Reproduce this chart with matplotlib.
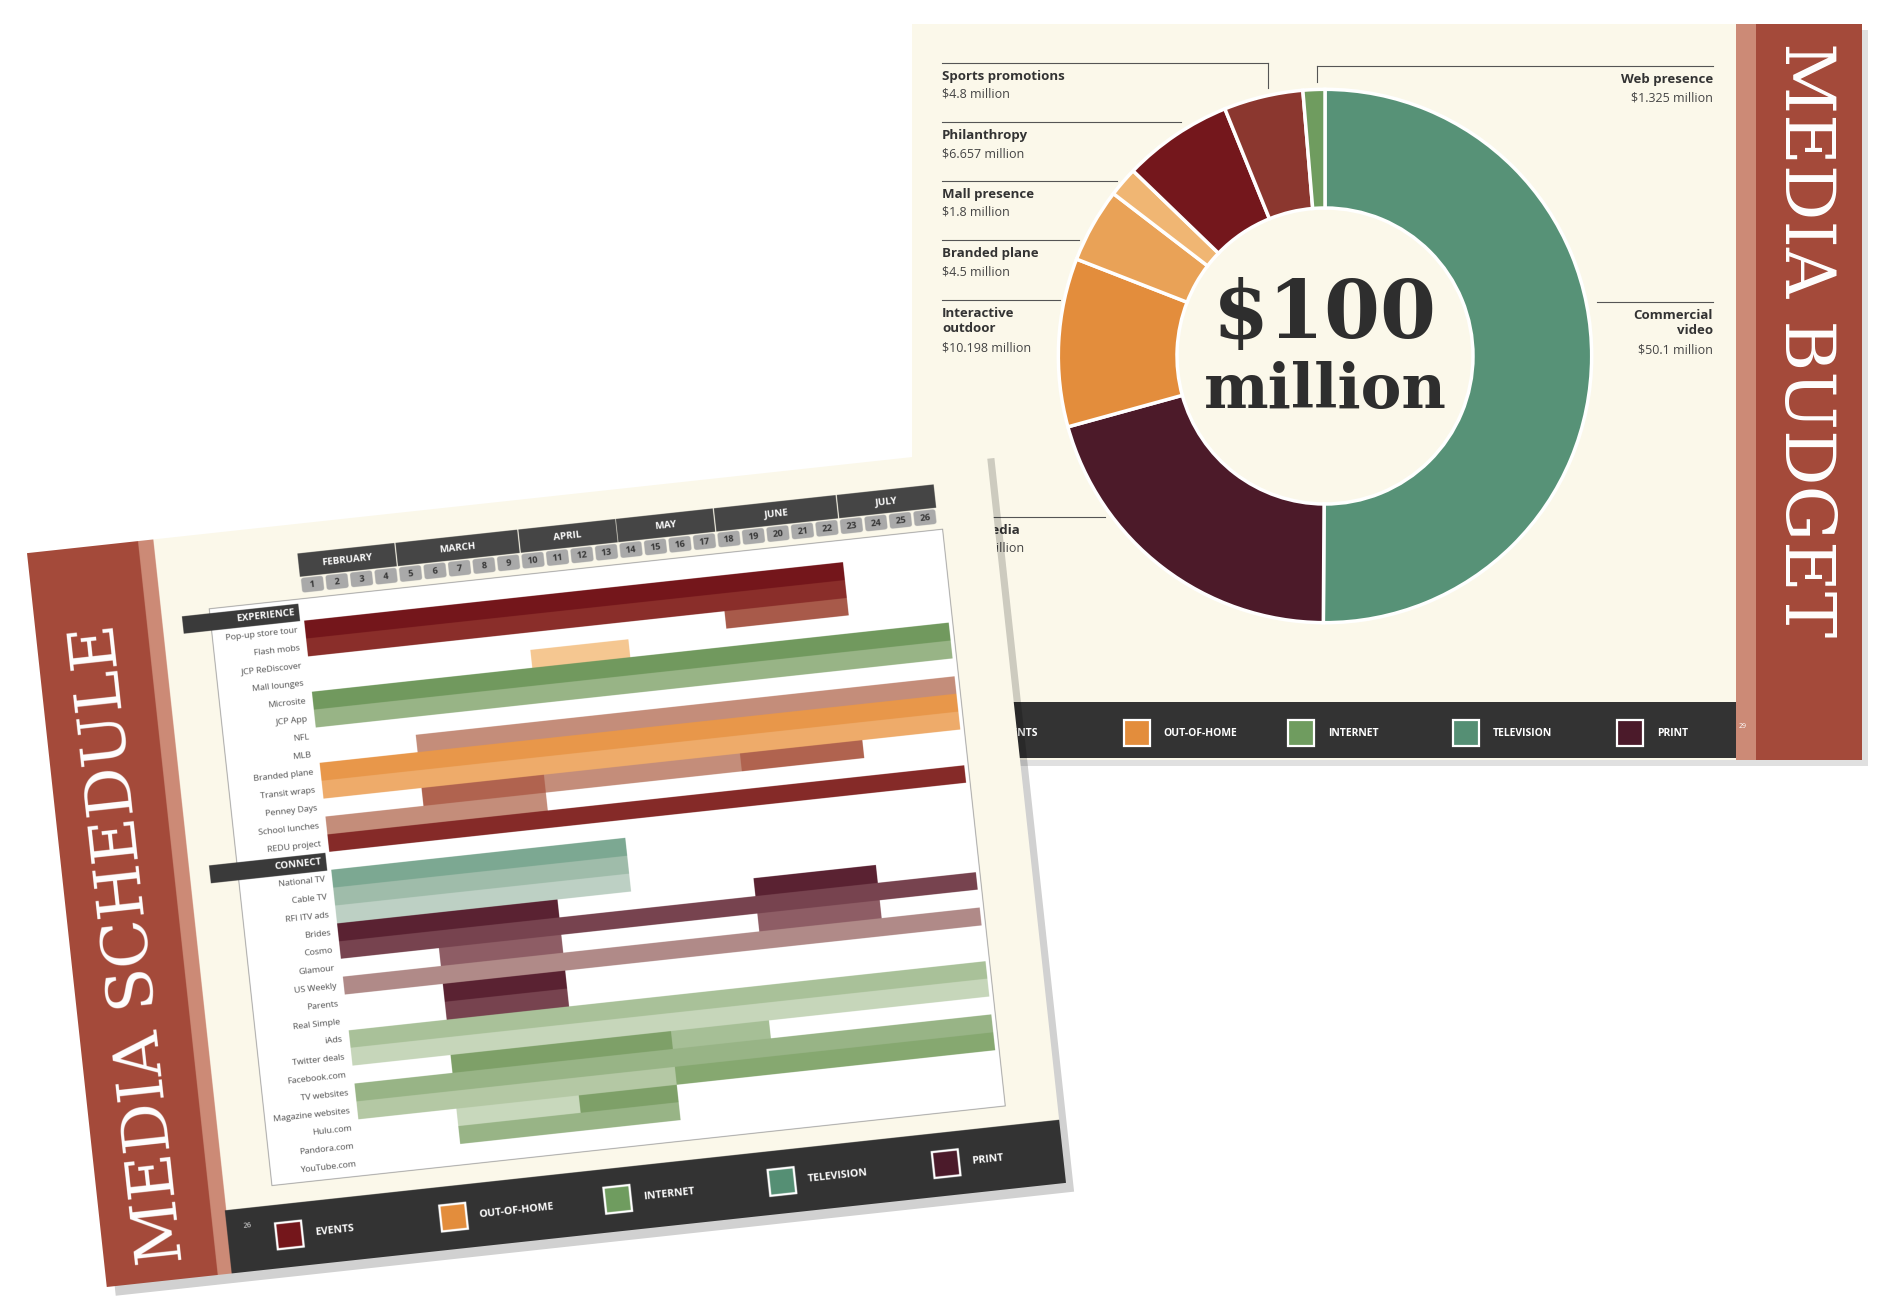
import numpy as np
import matplotlib
matplotlib.use("Agg")
import matplotlib.pyplot as plt
from matplotlib.figure import Figure
from matplotlib.backends.backend_agg import FigureCanvasAgg
from matplotlib.patches import Rectangle, FancyBboxPatch
from matplotlib.transforms import Affine2D

plt.rcParams['font.family'] = ['Open Sans', 'DejaVu Sans']

# ---- legend categories
cat_names = ["EVENTS", "OUT-OF-HOME", "INTERNET", "TELEVISION", "PRINT"]
cat_colors = ["#74161b", "#e38d3c", "#6f9c5f", "#558f74", "#4b1a2a"]

# ---- budget donut (clockwise from top), $ million
slice_names = ["Commercial video", "Print media", "Interactive outdoor", "Branded plane",
               "Mall presence", "Philanthropy", "Sports promotions", "Web presence"]
slice_values = [50.1, 20.62, 10.198, 4.5, 1.8, 6.657, 4.8, 1.325]
slice_colors = ["#579277", "#4c1a29", "#e38d3c", "#e9a257", "#f0b673", "#74171c", "#8b372f", "#6f9c5f"]

# ---- schedule
months = ["FEBRUARY", "MARCH", "APRIL", "MAY", "JUNE", "JULY"]
month_weeks = [(1, 4), (5, 9), (10, 13), (14, 17), (18, 22), (23, 26)]
weeks = list(range(1, 27))

exp_labels = ["Pop-up store tour", "Flash mobs", "JCP ReDiscover", "Mall lounges", "Microsite",
              "JCP App", "NFL", "MLB", "Branded plane", "Transit wraps", "Penney Days",
              "School lunches", "REDU project"]
exp_bars = [
    [(1, 22, "#74161b")],
    [(1, 22, "#8a2e2a")],
    [(18, 22, "#a85a4a")],
    [(10, 13, "#f5c791")],
    [(1, 26, "#71995e")],
    [(1, 26, "#98b486")],
    [],
    [(5, 26, "#c48d7a")],
    [(1, 26, "#e8974a")],
    [(1, 26, "#eeab6a")],
    [(5, 9, "#b0634f"), (10, 17, "#c48d7a"), (18, 22, "#b0634f")],
    [(1, 9, "#c48d7a")],
    [(1, 26, "#852a28")],
]
con_labels = ["National TV", "Cable TV", "RFI ITV ads", "Brides", "Cosmo", "Glamour",
              "US Weekly", "Parents", "Real Simple", "iAds", "Twitter deals", "Facebook.com",
              "TV websites", "Magazine websites", "Hulu.com", "Pandora.com", "YouTube.com"]
con_bars = [
    [(1, 12, "#7ca892")],
    [(1, 12, "#9fbcaa")],
    [(1, 12, "#bdd0c4")],
    [(1, 9, "#5a2232"), (18, 22, "#5a2232")],
    [(1, 26, "#77434f")],
    [(5, 9, "#8e5d65"), (18, 22, "#8e5d65")],
    [(1, 26, "#b08a88")],
    [(5, 9, "#5a2232")],
    [(5, 9, "#77434f")],
    [(1, 26, "#a9c199")],
    [(1, 26, "#c6d6ba")],
    [(5, 13, "#7ea068"), (14, 17, "#a6bf96")],
    [(1, 26, "#98b486")],
    [(1, 13, "#b4c8a4"), (14, 26, "#86a870")],
    [(5, 9, "#c8d8bc"), (10, 13, "#7ea068")],
    [(5, 13, "#98b486")],
    [],
]

CREAM = "#fbf8ea"
WOOD = "#a44a3a"
WOOD_LIGHT = "#cc8a76"
DARK = "#333333"

# ================= schedule page, drawn on its own canvas =================
PW, PH = 964, 738
fp = Figure(figsize=(PW / 100, PH / 100), dpi=200)
FigureCanvasAgg(fp)
bg = fp.add_axes([0, 0, 1, 1])
bg.set_xlim(0, PW)
bg.set_ylim(PH, 0)
bg.axis("off")
bg.add_patch(Rectangle((0, 0), PW, PH, color=CREAM))
bg.add_patch(Rectangle((0, 0), 112, PH, color=WOOD))
bg.add_patch(Rectangle((112, 0), 14, PH, color=WOOD_LIGHT))
bg.text(60, 400, "MEDIA SCHEDULE", rotation=90, color="white", family="DejaVu Serif",
        fontsize=46, ha="center", va="center")
bg.add_patch(Rectangle((126, 675), PW - 126, 63, color=DARK))
bg.text(146, 692, "26", color="white", fontsize=5, ha="center", va="center")
for i, (nm, col) in enumerate(zip(cat_names, cat_colors)):
    cx = 187 + 165 * i
    bg.add_patch(Rectangle((cx - 13, 706 - 13), 26, 26, facecolor=col, edgecolor="white", lw=1.6))
    bg.text(cx + 26, 706, nm, color="white", fontsize=7.5, fontweight="bold", va="center")
bg.add_patch(Rectangle((175, 75), 737, 580, facecolor="white", edgecolor="#999999", lw=0.6))

g = fp.add_axes([268 / PW, 1 - 652 / PH, 640 / PW, 555 / PH])
g.set_xlim(0.5, 26.5)
g.set_ylim(30.5, -0.5)
g.axis("off")
rows = exp_bars + [[]] + con_bars
for r, bars in enumerate(rows):
    for s, e, col in bars:
        g.barh(r, e - s + 1, left=s - 0.5, height=1.0, color=col, lw=0)
for w in weeks:
    g.add_patch(FancyBboxPatch((w - 0.42, -2.85), 0.84, 0.75, boxstyle="round,pad=0,rounding_size=0.1",
                               color="#a9a9a9", clip_on=False))
    g.text(w, -2.45, str(w), fontsize=6.5, fontweight="bold", color="#333333",
           ha="center", va="center", clip_on=False)
for m, (a, b) in zip(months, month_weeks):
    g.add_patch(Rectangle((a - 0.45, -4.25), b - a + 0.9, 1.25, color="#454545", clip_on=False))
    g.text((a + b) / 2, -3.6, m, fontsize=7, fontweight="bold", color="white",
           ha="center", va="center", clip_on=False)
for r, lab in enumerate(exp_labels):
    g.text(0.2, r, lab, fontsize=6.3, color="#444444", ha="right", va="center", clip_on=False)
for r, lab in enumerate(con_labels):
    g.text(0.2, r + 14, lab, fontsize=6.3, color="#444444", ha="right", va="center", clip_on=False)
for r, hdr in [(-1, "EXPERIENCE"), (13, "CONNECT")]:
    g.add_patch(Rectangle((-4.4, r - 0.45), 4.7, 0.9, color="#3a3a3a", clip_on=False))
    g.text(0.15, r, hdr, fontsize=7, fontweight="bold", color="white", ha="right",
           va="center", clip_on=False)
fp.canvas.draw()
sched_img = np.asarray(fp.canvas.buffer_rgba()).copy()

# ================= main figure =================
fig = plt.figure(figsize=(18.84, 13.10), dpi=100)
ax = fig.add_axes([0, 0, 1, 1])
ax.set_xlim(0, 1884)
ax.set_ylim(1310, 0)
ax.axis("off")

# budget page
ax.add_patch(Rectangle((918, 30), 950, 736, color="#000000", alpha=0.12, lw=0))
ax.add_patch(Rectangle((912, 24), 950, 736, color=CREAM, lw=0))
ax.add_patch(Rectangle((1736, 24), 126, 736, color=WOOD, lw=0))
ax.add_patch(Rectangle((1736, 24), 20, 736, color=WOOD_LIGHT, lw=0))
ax.text(1804, 340, "MEDIA BUDGET", rotation=-90, color="white", family="DejaVu Serif",
        fontsize=50, ha="center", va="center")
ax.add_patch(Rectangle((912, 702), 824, 56, color=DARK, lw=0))
ax.text(1743, 727, "29", color="white", fontsize=5, ha="center", va="center")
for i, (nm, col) in enumerate(zip(cat_names, cat_colors)):
    cx = 972 + 164.5 * i
    ax.add_patch(Rectangle((cx - 13, 733 - 13), 26, 26, facecolor=col, edgecolor="white", lw=1.6))
    ax.text(cx + 27, 733, nm, color="white", fontsize=7.5, fontweight="bold", va="center")

# leader labels
left_lab = [("Sports promotions", "$4.8 million", 63, 1268, 88),
            ("Philanthropy", "$6.657 million", 122, 1181, None),
            ("Mall presence", "$1.8 million", 181, 1117, None),
            ("Branded plane", "$4.5 million", 240, 1079, None),
            ("Interactive\noutdoor", "$10.198 million", 300, 1060, None),
            ("Print media", "$20.62 million", 517, 1105, None)]
for name, val, ly, lx, vy in left_lab:
    ax.plot([942, lx], [ly, ly], color="#555555", lw=0.8)
    if vy:
        ax.plot([lx, lx], [ly, vy], color="#555555", lw=0.8)
    nl = name.count("\n")
    ax.text(942, ly + 7, name, fontsize=9.5, fontweight="bold", color="#333333", va="top",
            linespacing=1.15)
    ax.text(942, ly + 25 + nl * 17, val, fontsize=9, color="#444444", va="top")
ax.plot([1317, 1713], [66, 66], color="#555555", lw=0.8)
ax.plot([1317, 1317], [66, 82], color="#555555", lw=0.8)
ax.text(1713, 73, "Web presence", fontsize=9.5, fontweight="bold", color="#333333", va="top", ha="right")
ax.text(1713, 91, "$1.325 million", fontsize=9, color="#444444", va="top", ha="right")
ax.plot([1597, 1713], [302, 302], color="#555555", lw=0.8)
ax.text(1713, 309, "Commercial\nvideo", fontsize=9.5, fontweight="bold", color="#333333", va="top",
        ha="right", multialignment="right", linespacing=1.15)
ax.text(1713, 344, "$50.1 million", fontsize=9, color="#444444", va="top", ha="right")

# donut
cx, cy, R = 1325, 356, 272
pa = fig.add_axes([(cx - R) / 1884, 1 - (cy + R) / 1310, 2 * R / 1884, 2 * R / 1310])
pa.pie(slice_values, colors=slice_colors, startangle=90, counterclock=False, radius=1,
       wedgeprops=dict(width=0.445, edgecolor="white", linewidth=2.5))
pa.set_xlim(-1.02, 1.02)
pa.set_ylim(-1.02, 1.02)
pa.axis("off")
pa.text(0, 0.15, "$100", fontsize=58, fontweight="bold", family="DejaVu Serif",
        color="#2e2e2e", ha="center", va="center")
pa.text(0, -0.13, "million", fontsize=44, fontweight="bold", family="DejaVu Serif",
        color="#2e2e2e", ha="center", va="center")

# schedule page on top, rotated
top = fig.add_axes([0, 0, 1, 1])
top.set_xlim(0, 1884)
top.set_ylim(1310, 0)
top.axis("off")
rot = Affine2D().rotate_deg(-6.2).translate(27, 553)
top.add_patch(Rectangle((8, 10), PW, PH, color="black", alpha=0.18, lw=0, zorder=0,
                        transform=rot + top.transData))
im = top.imshow(sched_img, extent=(0, PW, PH, 0), interpolation="antialiased", zorder=2)
im.set_transform(rot + top.transData)
top.set_xlim(0, 1884)
top.set_ylim(1310, 0)

fig.savefig("out.png", dpi=100)
